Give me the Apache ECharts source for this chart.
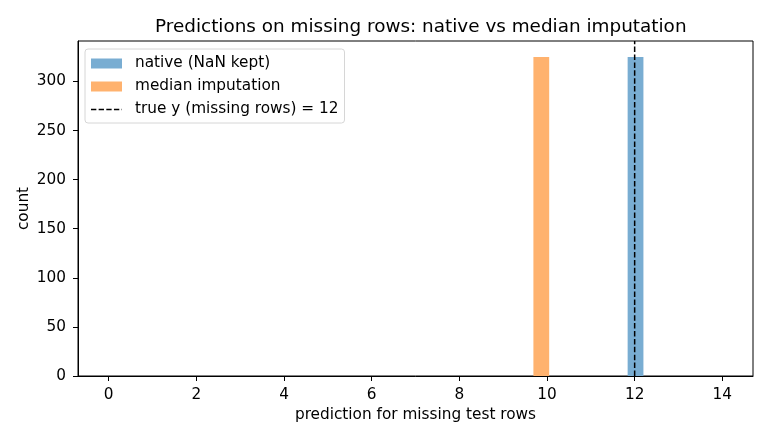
<!DOCTYPE html>
<html>
<head>
<meta charset="utf-8">
<script src="https://cdn.jsdelivr.net/npm/echarts@6/dist/echarts.min.js"></script>
<style>
  html, body { margin: 0; padding: 0; background: #fff; }
  #chart { width: 770px; height: 440px; }
</style>
</head>
<body>
<div id="chart"></div>
<script>
// histogram bins: left edge, right edge, count
const nativeLeft = [11.84]
const nativeRight = [12.20]
const nativeCount = [325]
const medianLeft = [9.69]
const medianRight = [10.05]
const medianCount = [325]
const trueY = 12

const xTicks = [0, 2, 4, 6, 8, 10, 12, 14]
const yTicks = [0, 50, 100, 150, 200, 250, 300]
const xMin = -0.7, xMax = 14.7
const yMax = 341.25

const font = '"DejaVu Sans", sans-serif'
const fs = 15.3
const blue = '#79add2'
const orange = '#ffb26e'
const dashIcon = 'path://M0,0h5.5v1.5h-5.5z M7.9,0h5.5v1.5h-5.5z M15.8,0h5.5v1.5h-5.5z M23.7,0h5.5v1.5h-5.5z M31.6,0h0.4v1.5h-0.4z'

const toRects = (l, r, c) => l.map((x, i) => [x, r[i], c[i]])

const renderBar = (params, api) => {
  const p0 = api.coord([api.value(0), 0])
  const p1 = api.coord([api.value(1), api.value(2)])
  return {
    type: 'rect',
    shape: { x: p0[0], y: p1[1], width: p1[0] - p0[0], height: p0[1] - p1[1] },
    style: { fill: api.visual('color') }
  }
}

const chart = echarts.init(document.getElementById('chart'))

chart.setOption({
  animation: false,
  title: {
    text: 'Predictions on missing rows: native vs median imputation',
    left: 150, top: 13,
    textStyle: { fontFamily: font, fontSize: 18.4, fontWeight: 'normal', color: '#000' }
  },
  grid: { left: 78, right: 17, top: 41, bottom: 64, show: true, borderColor: '#000', borderWidth: 1 },
  legend: {
    left: 85, top: 49, orient: 'vertical',
    padding: [7, 6, 6, 6], itemGap: 8,
    itemWidth: 31, itemHeight: 10,
    backgroundColor: 'rgba(255,255,255,0.8)', borderColor: '#d6d6d6', borderWidth: 1, borderRadius: 3,
    textStyle: { fontFamily: font, fontSize: fs, color: '#000', padding: [0, 0, 0, 8] },
    data: [
      { name: 'native (NaN kept)', icon: 'rect' },
      { name: 'median imputation', icon: 'rect' },
      { name: 'true y (missing rows) = 12', icon: dashIcon }
    ]
  },
  xAxis: {
    type: 'value', min: xMin, max: xMax,
    name: 'prediction for missing test rows', nameLocation: 'middle', nameGap: 32,
    nameMoveOverlap: false,
    nameTextStyle: { fontFamily: font, fontSize: fs, color: '#000' },
    axisLine: { show: true, onZero: false, lineStyle: { color: '#000' } },
    axisTick: { show: true, length: 5, customValues: xTicks, lineStyle: { color: '#000' } },
    axisLabel: { customValues: xTicks, margin: 12, fontFamily: font, fontSize: fs, color: '#000' },
    splitLine: { show: false }
  },
  yAxis: {
    type: 'value', min: 0, max: yMax,
    name: 'count', nameLocation: 'middle', nameGap: 46,
    nameMoveOverlap: false,
    nameTextStyle: { fontFamily: font, fontSize: fs, color: '#000' },
    axisLine: { show: true, onZero: false, lineStyle: { color: '#000' } },
    axisTick: { show: true, length: 5, customValues: yTicks, lineStyle: { color: '#000' } },
    axisLabel: { customValues: yTicks, margin: 12, fontFamily: font, fontSize: fs, color: '#000' },
    splitLine: { show: false }
  },
  series: [
    {
      name: 'native (NaN kept)', type: 'custom', renderItem: renderBar,
      itemStyle: { color: blue },
      encode: { x: [0, 1], y: 2 },
      data: toRects(nativeLeft, nativeRight, nativeCount)
    },
    {
      name: 'median imputation', type: 'custom', renderItem: renderBar,
      itemStyle: { color: orange },
      encode: { x: [0, 1], y: 2 },
      data: toRects(medianLeft, medianRight, medianCount)
    },
    {
      name: 'true y (missing rows) = 12', type: 'line', symbol: 'none', z: 5,
      itemStyle: { color: '#000' },
      lineStyle: { color: '#000', width: 1.5, type: [5.5, 2.4] },
      data: [[trueY, 0], [trueY, yMax]]
    }
  ]
})
</script>
</body>
</html>
